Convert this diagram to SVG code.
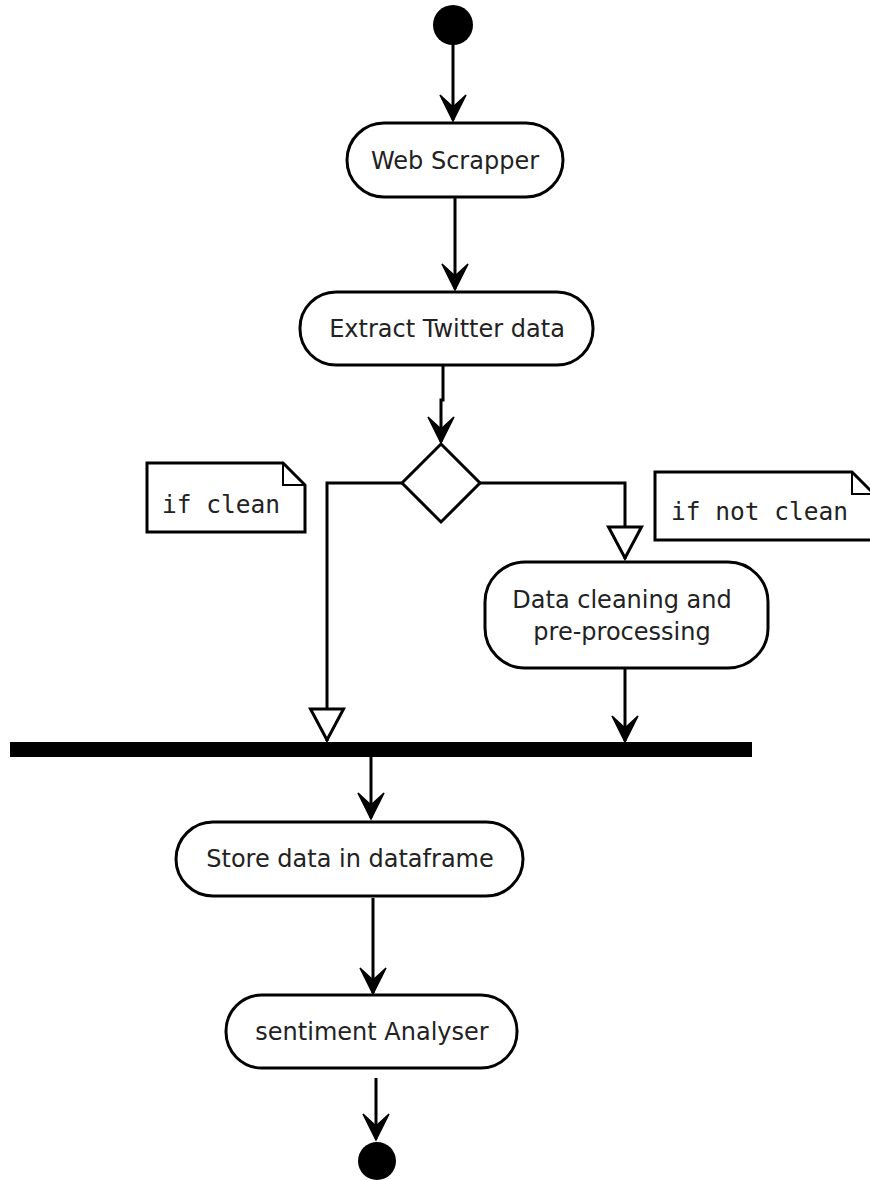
<svg xmlns="http://www.w3.org/2000/svg" width="870" height="1180" viewBox="0 0 870 1180">
  <style>
    .act { fill: #ffffff; stroke: #000000; stroke-width: 3; }
    .lbl { font-family: "DejaVu Sans", sans-serif; font-size: 24px; fill: #222222; text-anchor: middle; }
    .note { fill: #ffffff; stroke: #000000; stroke-width: 3; }
    .fold { fill: none; stroke: #000000; stroke-width: 2; }
    .ntxt { font-family: "DejaVu Sans Mono", monospace; font-size: 24.5px; fill: #222222; }
    .flow { fill: none; stroke: #000000; stroke-width: 3; }
    .solid { marker-end: url(#stick); }
    .open { marker-end: url(#hollow); }
  </style>
  <defs>
    <marker id="stick" markerUnits="userSpaceOnUse" viewBox="-28 -16 32 32" refX="0" refY="0" markerWidth="32" markerHeight="32" orient="auto" overflow="visible">
      <path d="M1,0 L-25,-13 L-13,0 L-25,13 Z" fill="#000000" stroke="#000000" stroke-width="1.5" stroke-linejoin="miter"/>
    </marker>
    <marker id="hollow" markerUnits="userSpaceOnUse" viewBox="-36 -20 40 40" refX="0" refY="0" markerWidth="40" markerHeight="40" orient="auto" overflow="visible">
      <path d="M-1,0 L-32,-16.5 L-32,16.5 Z" fill="#ffffff" stroke="#000000" stroke-width="3"/>
    </marker>
  </defs>

  <!-- connectors -->
  <g id="connectors">
    <line class="flow solid" x1="453" y1="44" x2="453" y2="120"/>
    <line class="flow solid" x1="455" y1="197" x2="455" y2="289"/>
    <path class="flow solid" d="M443,365 L443,400 L441,400 L441,442"/>
    <path class="flow open" d="M402,483 L327,483 L327,741"/>
    <path class="flow open" d="M480,483 L625,483 L625,559"/>
    <line class="flow solid" x1="625" y1="668" x2="625" y2="741"/>
    <line class="flow solid" x1="371" y1="757" x2="371" y2="818"/>
    <line class="flow solid" x1="373" y1="898" x2="373" y2="993"/>
    <line class="flow solid" x1="376" y1="1078" x2="376" y2="1139"/>
  </g>

  <!-- start -->
  <g id="start">
    <circle cx="453" cy="25" r="20" fill="#000000"/>
  </g>

  <g id="web-scrapper">
    <rect class="act" x="347" y="123" width="216" height="74" rx="37" ry="37"/>
    <text class="lbl" x="455" y="169">Web Scrapper</text>
  </g>

  <g id="extract-twitter">
    <rect class="act" x="300" y="292" width="293" height="73" rx="36" ry="36"/>
    <text class="lbl" x="447" y="337">Extract Twitter data</text>
  </g>

  <g id="decision">
    <polygon class="act" points="441,444 480,483 441,522 402,483"/>
  </g>

  <g id="note-clean">
    <path class="note" d="M147,463 L283,463 L305,485 L305,532 L147,532 Z"/>
    <path class="fold" d="M283,463 L283,485 L305,485"/>
    <text class="ntxt" x="162" y="513">if clean</text>
  </g>

  <g id="note-not-clean">
    <path class="note" d="M655,472 L852,472 L874,494 L874,540 L655,540 Z"/>
    <path class="fold" d="M852,472 L852,494 L874,494"/>
    <text class="ntxt" x="671" y="520">if not clean</text>
  </g>

  <g id="data-cleaning">
    <rect class="act" x="485" y="562" width="283" height="106" rx="40" ry="40"/>
    <text class="lbl" x="622" y="608">Data cleaning and</text>
    <text class="lbl" x="622" y="640">pre-processing</text>
  </g>

  <g id="join-bar">
    <rect x="10" y="742" width="742" height="15" fill="#000000"/>
  </g>

  <g id="store-dataframe">
    <rect class="act" x="176" y="822" width="347" height="74" rx="37" ry="37"/>
    <text class="lbl" x="350" y="867">Store data in dataframe</text>
  </g>

  <g id="sentiment-analyser">
    <rect class="act" x="226" y="995" width="291" height="73" rx="36" ry="36"/>
    <text class="lbl" x="372" y="1040">sentiment Analyser</text>
  </g>

  <!-- end -->
  <g id="end">
    <circle cx="377" cy="1161" r="19" fill="#000000"/>
  </g>
</svg>
